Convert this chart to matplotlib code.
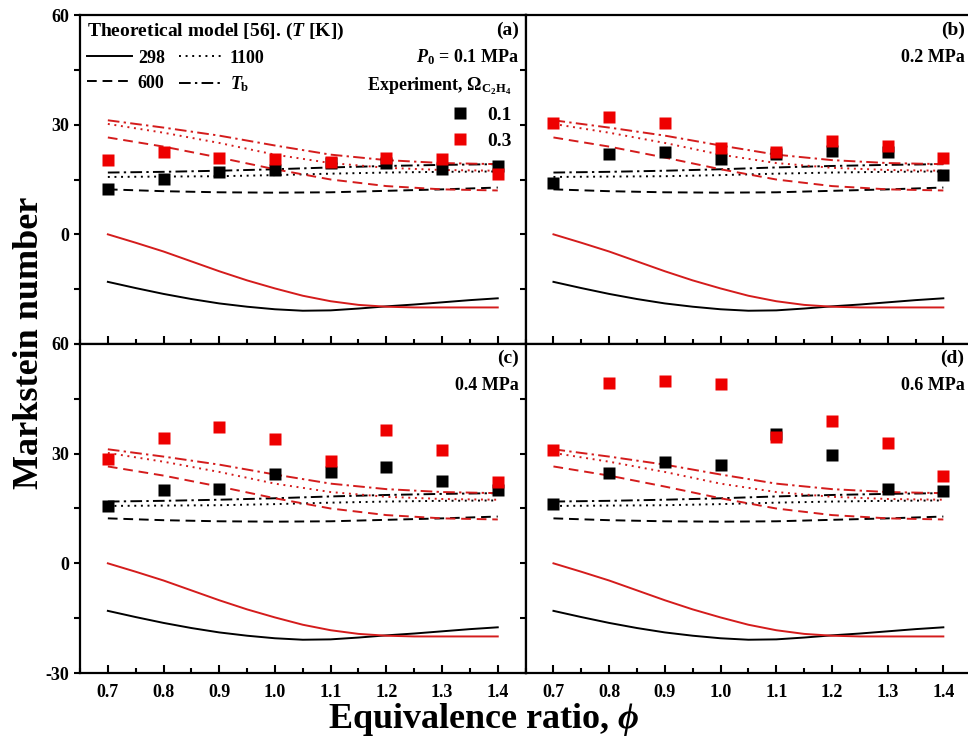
import numpy as np
import matplotlib
matplotlib.use('Agg')
import matplotlib.pyplot as plt
from matplotlib.lines import Line2D
from matplotlib.ticker import MultipleLocator

plt.rcParams['font.family'] = ['Liberation Serif', 'DejaVu Serif']
plt.rcParams['font.weight'] = 'bold'
plt.rcParams['axes.unicode_minus'] = False
plt.rcParams['mathtext.fontset'] = 'custom'
plt.rcParams['mathtext.rm'] = 'Liberation Serif:bold'
plt.rcParams['mathtext.it'] = 'Liberation Serif:italic:bold'
plt.rcParams['mathtext.bf'] = 'Liberation Serif:bold'

# theoretical model, same in every panel
phi_fine = [0.7, 0.75, 0.8, 0.85, 0.9, 0.95, 1.0, 1.05, 1.1, 1.15, 1.2, 1.25, 1.3, 1.35, 1.4]
th298_01 = [-13.0, -14.7, -16.3, -17.7, -18.9, -19.8, -20.5, -20.9, -20.8, -20.3, -19.7, -19.2, -18.6, -18.0, -17.5]
th298_03 = [0.0, -2.3, -4.7, -7.4, -10.1, -12.6, -14.8, -16.8, -18.3, -19.3, -19.8, -20.0, -20.0, -20.0, -20.0]

phi = [0.7, 0.8, 0.9, 1.0, 1.1, 1.2, 1.3, 1.4]
th600_01 = [12.3, 11.8, 11.5, 11.4, 11.5, 11.9, 12.3, 12.8]
th600_03 = [26.5, 24.0, 21.0, 17.8, 15.0, 13.2, 12.3, 12.0]
th1100_01 = [15.7, 15.8, 15.9, 16.2, 16.6, 16.9, 17.1, 17.2]
th1100_03 = [30.2, 27.8, 25.0, 21.8, 19.5, 18.2, 17.6, 17.4]
thTb_01 = [16.9, 17.1, 17.4, 17.8, 18.3, 18.7, 19.0, 19.2]
thTb_03 = [31.2, 29.2, 27.0, 24.3, 21.8, 20.3, 19.5, 19.2]

# experiments
exp_a_01 = [12.3, 15.2, 17.1, 17.5, 19.5, 19.5, 17.8, 18.7]
exp_a_03 = [20.3, 22.6, 20.8, 20.5, 19.9, 20.8, 20.7, 16.6]
exp_b_01 = [14.1, 21.9, 22.6, 20.7, 22.0, 22.8, 22.4, 16.2]
exp_b_03 = [30.5, 32.2, 30.4, 23.6, 22.6, 25.4, 24.2, 20.8]
exp_c_01 = [15.6, 20.1, 20.4, 24.5, 25.1, 26.3, 22.5, 20.1]
exp_c_03 = [28.6, 34.2, 37.2, 34.0, 28.1, 36.6, 31.0, 22.2]
exp_d_01 = [16.1, 24.7, 27.6, 26.9, 35.5, 29.7, 20.2, 19.9]
exp_d_03 = [31.0, 49.2, 49.9, 49.0, 34.6, 39.0, 32.9, 23.8]

panel_tags = ['(a)', '(b)', '(c)', '(d)']
pressures = [r'$P_0$ = 0.1 MPa', '0.2 MPa', '0.4 MPa', '0.6 MPa']

black = 'black'
red_line = '#d41c1c'
red_pt = '#ee0000'
ls600 = (0, (5, 3))
ls1100 = (0, (1, 2.4))
lsTb = (0, (6, 2.2, 1.2, 2.2))

fig = plt.figure(figsize=(9.68, 7.44), dpi=100)
W = 445.6 / 968
H = 329 / 744
lefts = [80 / 968, 525.6 / 968]
bottoms = [1 - 344 / 744, 1 - 673 / 744]
exps = [(exp_a_01, exp_a_03), (exp_b_01, exp_b_03), (exp_c_01, exp_c_03), (exp_d_01, exp_d_03)]

for k in range(4):
    row, col = k // 2, k % 2
    ax = fig.add_axes([lefts[col], bottoms[row], W, H])
    for c, s01 in ((black, True), (red_line, False)):
        ax.plot(phi_fine, th298_01 if s01 else th298_03, color=c, lw=1.4, ls='-')
        ax.plot(phi, th600_01 if s01 else th600_03, color=c, lw=1.4, ls=ls600)
        ax.plot(phi, th1100_01 if s01 else th1100_03, color=c, lw=1.4, ls=ls1100)
        ax.plot(phi, thTb_01 if s01 else thTb_03, color=c, lw=1.4, ls=lsTb)
    e01, e03 = exps[k]
    ax.plot(phi, e01, 's', color=black, ms=8, mec='none')
    ax.plot(phi, e03, 's', color=red_pt, ms=8, mec='none')

    ax.set_xlim(0.65, 1.45)
    ax.set_ylim(-30, 60)
    ax.xaxis.set_major_locator(MultipleLocator(0.1))
    ax.xaxis.set_minor_locator(MultipleLocator(0.05))
    ax.set_yticks([-30, 0, 30, 60])
    ax.yaxis.set_minor_locator(MultipleLocator(15))
    ax.tick_params(axis='x', which='major', direction='in', length=6, width=1.5, labelsize=13, pad=8)
    ax.tick_params(axis='x', which='minor', direction='in', length=3.5, width=1.5)
    ax.tick_params(axis='y', which='both', direction='out', length=4, width=1.5, labelsize=13)
    for sp in ax.spines.values():
        sp.set_linewidth(1.6)
    if row == 0:
        ax.set_xticklabels([])
    else:
        ax.set_xticklabels(['%.1f' % v for v in ax.get_xticks()])
    if col == 1:
        ax.set_yticklabels([])
    elif row == 0:
        ax.set_yticklabels(['', '0', '30', '60'])

    ty = 0.954 if row == 0 else 0.955
    ax.text(0.985, ty, panel_tags[k], transform=ax.transAxes, ha='right', va='center', fontsize=14)
    ax.text(0.985, ty - 0.082, pressures[k], transform=ax.transAxes, ha='right', va='center', fontsize=13)

    if k == 0:
        h = [Line2D([], [], color=black, lw=1.4, ls='-'),
             Line2D([], [], color=black, lw=1.4, ls=ls600),
             Line2D([], [], color=black, lw=1.4, ls=ls1100),
             Line2D([], [], color=black, lw=1.4, ls=lsTb)]
        leg1 = ax.legend(h, ['298', '600', '1100', r'$T_\mathrm{b}$'], ncol=2, loc='upper left',
                         bbox_to_anchor=(-0.012, 1.022), frameon=False, fontsize=13,
                         title=r'Theoretical model [56]. ($T$ [K])', title_fontsize=14,
                         alignment='left', handlelength=2.5, handletextpad=0.3,
                         columnspacing=0.8, labelspacing=0.45, borderaxespad=0.3)
        ax.add_artist(leg1)
        h2 = [Line2D([], [], color=black, marker='s', ls='none', ms=8, mec='none'),
              Line2D([], [], color=red_pt, marker='s', ls='none', ms=8, mec='none')]
        leg2 = ax.legend(h2, ['0.1', '0.3'], loc='upper right', bbox_to_anchor=(1.0, 0.857),
                         frameon=False, fontsize=14, title=r'Experiment, $\Omega_{\mathrm{C_2H_4}}$',
                         title_fontsize=13, alignment='right', handletextpad=0.4,
                         labelspacing=0.45, borderaxespad=0.3)

fig.text(0.03, 0.539, 'Markstein number', rotation=90, ha='center', va='center', fontsize=26)
fig.text(0.5, 0.033, r'Equivalence ratio, $\phi$', ha='center', va='center', fontsize=26)

fig.savefig('out.png', dpi=100)
